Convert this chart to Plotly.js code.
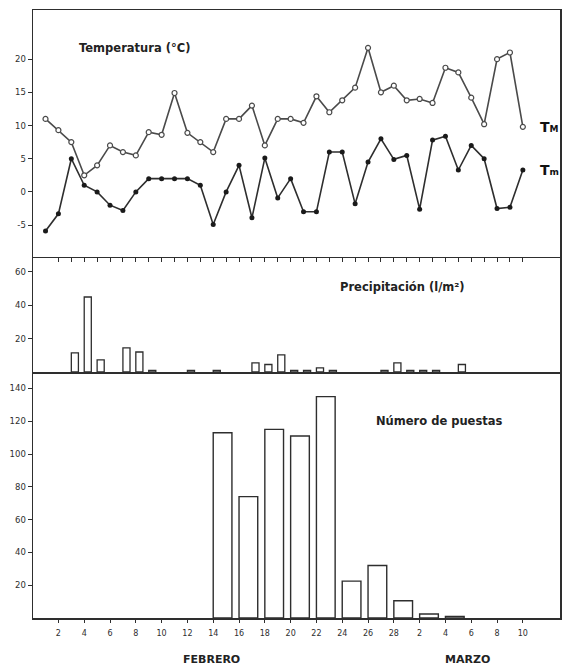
<!DOCTYPE html>
<html>
<head>
<meta charset="utf-8">
<script src="https://cdn.plot.ly/plotly-3.0.1.min.js"></script>
<style>html,body{margin:0;padding:0;background:#fff;}#chart{width:564px;height:668px;}</style>
</head>
<body>
<div id="chart"></div>
<script>
// Day index: Feb 1..28 -> 1..28, Mar 1..10 -> 29..38
const dayIndex = [1,2,3,4,5,6,7,8,9,10,11,12,13,14,15,16,17,18,19,20,21,22,23,24,25,26,27,28,29,30,31,32,33,34,35,36,37,38];
const tMax = [11,9.3,7.5,2.5,4,7,6,5.5,9,8.6,14.9,8.9,7.5,6,11,11,13,7,11,11,10.4,14.4,12,13.8,15.7,21.7,15,16,13.8,14,13.4,18.7,18,14.2,10.2,20,21,9.8];
const tMin = [-5.9,-3.3,5,1,0,-2,-2.8,0,2,2,2,2,1,-4.9,0,4,-3.9,5.1,-0.9,2,-3,-3,6,6,-1.8,4.5,8,4.9,5.5,-2.6,7.8,8.4,3.3,7,5,-2.5,-2.3,3.3];
const precipDays = [3,4,5,7,8,9,12,14,17,18,19,20,21,22,23,27,28,29,30,31,33];
const precipVals = [11.5,45,7.3,14.5,12,1,1,1,5.5,4.5,10.3,1,1,2.5,1,1,5.5,1,1,1,4.5];
const puestasDays = [14,16,18,20,22,24,26,28,30,32];
const puestasVals = [113,74,115,111,135,22.5,32,10.5,2.4,1];
const labelDays = [2,4,6,8,10,12,14,16,18,20,22,24,26,28,30,32,34,36,38];
const labelText = ['2','4','6','8','10','12','14','16','18','20','22','24','26','28','2','4','6','8','10'];
const oddDays = [3,5,7,9,11,13,15,17,19,21,23,25,27,29,31,33,35,37];
const allTickDays = [2,3,4,5,6,7,8,9,10,11,12,13,14,15,16,17,18,19,20,21,22,23,24,25,26,27,28,29,30,31,32,33,34,35,36,37,38];

const ink = '#2e2e2e';
const traces = [
  {x: dayIndex, y: tMax, xaxis:'x3', yaxis:'y3', type:'scatter', mode:'lines+markers',
   line:{color:'#4a4a4a', width:1.6}, marker:{symbol:'circle', size:5, color:'#fff', line:{color:'#4a4a4a', width:1.2}}, hoverinfo:'skip'},
  {x: dayIndex, y: tMin, xaxis:'x3', yaxis:'y3', type:'scatter', mode:'lines+markers',
   line:{color:ink, width:1.6}, marker:{symbol:'circle', size:5, color:'#1a1a1a'}, hoverinfo:'skip'},
  {x: precipDays, y: precipVals, xaxis:'x2', yaxis:'y2', type:'bar', offset:0, width:0.55,
   marker:{color:'#fff', line:{color:ink, width:1.3}}, hoverinfo:'skip'},
  {x: puestasDays, y: puestasVals, xaxis:'x', yaxis:'y', type:'bar', offset:0, width:1.45,
   marker:{color:'#fff', line:{color:ink, width:1.4}}, hoverinfo:'skip'}
];

const tickFont = {family:'DejaVu Sans', size:8, color:ink};
const yFont = {family:'DejaVu Sans', size:8.5, color:ink};
const range = [0.03, 40.88];
const annFont = {family:'DejaVu Sans', size:11.5, color:'#222', weight:'bold'};
const tFont = {family:'DejaVu Sans', size:14, color:'#111', weight:'bold'};
const monthFont = {family:'DejaVu Sans', size:11, color:'#222', weight:'bold'};

const layout = {
  width:564, height:668,
  margin:{l:33, r:4, t:10, b:50},
  paper_bgcolor:'#fff', plot_bgcolor:'#fff',
  showlegend:false,
  xaxis:{anchor:'y', range:range, showgrid:false, zeroline:false, showline:true, linecolor:ink, linewidth:1.5,
         tickmode:'array', tickvals:labelDays, ticktext:labelText, ticks:'outside', ticklen:3, tickcolor:ink,
         tickfont:tickFont, ticklabelstandoff:4},
  xaxis4:{overlaying:'x', anchor:'y', range:range, showgrid:false, zeroline:false, showline:false,
          tickmode:'array', tickvals:oddDays, ticks:'outside', ticklen:3, tickcolor:ink, showticklabels:false},
  xaxis2:{anchor:'y2', range:range, showgrid:false, zeroline:false, showline:true, linecolor:ink, linewidth:1.5,
          showticklabels:false, ticks:''},
  xaxis3:{anchor:'y3', range:range, showgrid:false, zeroline:false, showline:true, linecolor:ink, linewidth:1.5, mirror:true,
          tickmode:'array', tickvals:allTickDays, ticks:'outside', ticklen:4, tickcolor:ink, showticklabels:false},
  yaxis:{domain:[0, 0.4046], range:[0,150], showgrid:false, zeroline:false, showline:true, mirror:true, linecolor:ink, linewidth:1.5,
         tickmode:'array', tickvals:[20,40,60,80,100,120,140], ticks:'outside', ticklen:4, tickcolor:ink, tickfont:yFont},
  yaxis2:{domain:[0.4046, 0.5938], range:[0,69], showgrid:false, zeroline:false, showline:true, mirror:true, linecolor:ink, linewidth:1.5,
          tickmode:'array', tickvals:[20,40,60], ticks:'outside', ticklen:4, tickcolor:ink, tickfont:yFont},
  yaxis3:{domain:[0.5938, 1], range:[-9.8,27.4], showgrid:false, zeroline:false, showline:true, mirror:true, linecolor:ink, linewidth:1.5,
          tickmode:'array', tickvals:[-5,0,5,10,15,20], ticktext:['-5','0','5','10','15','20'], ticks:'outside', ticklen:4, tickcolor:ink, tickfont:yFont},
  annotations:[
    {xref:'paper', yref:'paper', x:0.1935, y:0.9375, text:'Temperatura (°C)', showarrow:false, xanchor:'center', yanchor:'middle', font:annFont},
    {xref:'paper', yref:'paper', x:0.702, y:0.5444, text:'Precipitación (l/m²)', showarrow:false, xanchor:'center', yanchor:'middle', font:annFont},
    {xref:'paper', yref:'paper', x:0.772, y:0.324, text:'Número de puestas', showarrow:false, xanchor:'center', yanchor:'middle', font:annFont},
    {xref:'paper', yref:'paper', x:0.9585, y:0.8076, text:'T<span style="font-size:9px">M</span>', showarrow:false, xanchor:'left', yanchor:'middle', font:tFont},
    {xref:'paper', yref:'paper', x:0.9585, y:0.737, text:'T<span style="font-size:9px">m</span>', showarrow:false, xanchor:'left', yanchor:'middle', font:tFont},
    {xref:'paper', yref:'paper', x:0.338, y:-0.069, text:'FEBRERO', showarrow:false, xanchor:'center', yanchor:'middle', font:monthFont},
    {xref:'paper', yref:'paper', x:0.8254, y:-0.069, text:'MARZO', showarrow:false, xanchor:'center', yanchor:'middle', font:monthFont}
  ]
};

Plotly.newPlot('chart', traces, layout, {staticPlot:true, displayModeBar:false});
</script>
</body>
</html>
